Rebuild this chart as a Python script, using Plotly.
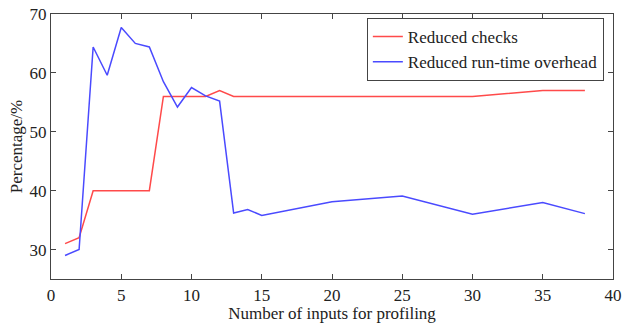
import plotly.graph_objects as go

x_inputs = [1, 2, 3, 4, 5, 6, 7, 8, 9, 10, 11, 12, 13, 14, 15, 20, 25, 30, 35, 38]
reduced_checks = [31, 32, 40, 40, 40, 40, 40, 56, 56, 56, 56, 57, 56, 56, 56, 56, 56, 56, 57, 57]
reduced_overhead = [29, 30, 64.4, 59.6, 67.7, 65.0, 64.4, 58.5, 54.2, 57.5, 56.1, 55.2, 36.2, 36.8, 35.8, 38.1, 39.1, 36.0, 38.0, 36.1]

x_ticks = [0, 5, 10, 15, 20, 25, 30, 35, 40]
y_ticks = [30, 40, 50, 60, 70]

font = "Liberation Serif, Times New Roman, serif"

fig = go.Figure()
fig.add_trace(go.Scatter(x=x_inputs, y=reduced_checks, mode="lines", name="Reduced checks",
                         line=dict(color="#ff4a4a", width=1.5)))
fig.add_trace(go.Scatter(x=x_inputs, y=reduced_overhead, mode="lines", name="Reduced run-time overhead",
                         line=dict(color="#4a4aff", width=1.5)))

axis_common = dict(showgrid=False, zeroline=False, showline=True, linecolor="#444", linewidth=1.2,
                   ticks="inside", ticklen=5, tickcolor="#444", mirror="ticks", automargin=False,
                   ticklabeloverflow="allow",
                   tickfont=dict(family=font, size=17, color="#222"))

fig.update_layout(
    width=624, height=325,
    margin=dict(l=51, r=11, t=14, b=46),
    plot_bgcolor="white", paper_bgcolor="white",
    font=dict(family=font, color="#222"),
    xaxis=dict(range=[0, 40], tickvals=x_ticks,
               title=dict(text="Number of inputs for profiling", font=dict(family=font, size=17), standoff=2),
               **axis_common),
    yaxis=dict(range=[25, 70], tickvals=y_ticks,
               title=dict(text="Percentage/%", font=dict(family=font, size=17), standoff=2),
               **axis_common),
    legend=dict(x=0.562, y=0.985, xanchor="left", yanchor="top",
                bgcolor="white", bordercolor="#444", borderwidth=1,
                font=dict(family=font, size=17, color="#222"),
                tracegroupgap=0, itemwidth=30),
    showlegend=True,
)

fig.write_html("out.html", config={"displayModeBar": False},
               post_script="document.body.style.margin='0';document.body.style.overflow='hidden';")
